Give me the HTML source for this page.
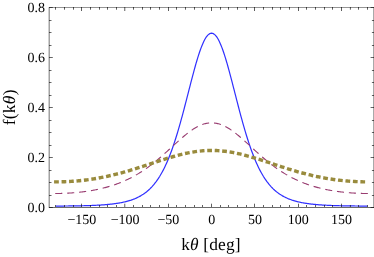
<!DOCTYPE html>
<html><head><meta charset="utf-8"><title>plot</title>
<style>
html,body{margin:0;padding:0;background:#fff;width:374px;height:257px;overflow:hidden}
svg{display:block;position:absolute;left:0;top:0;will-change:transform;text-rendering:geometricPrecision}
.ls{font-family:"Liberation Serif",serif}
</style></head>
<body>
<svg width="374" height="257" viewBox="0 0 374 257">
<rect width="374" height="257" fill="#fff"/>
<path d="M55.78,206.04 L56.65,206.04 L57.51,206.03 L58.38,206.03 L59.24,206.03 L60.11,206.03 L60.97,206.03 L61.84,206.02 L62.70,206.02 L63.57,206.02 L64.43,206.01 L65.30,206.01 L66.17,206.00 L67.03,205.99 L67.90,205.99 L68.76,205.98 L69.63,205.97 L70.49,205.96 L71.36,205.95 L72.22,205.94 L73.09,205.93 L73.95,205.92 L74.82,205.91 L75.68,205.89 L76.55,205.88 L77.42,205.86 L78.28,205.85 L79.15,205.83 L80.01,205.82 L80.88,205.80 L81.74,205.78 L82.61,205.76 L83.47,205.74 L84.34,205.72 L85.20,205.69 L86.07,205.67 L86.93,205.64 L87.80,205.61 L88.67,205.59 L89.53,205.56 L90.40,205.53 L91.26,205.49 L92.13,205.46 L92.99,205.42 L93.86,205.39 L94.72,205.35 L95.59,205.31 L96.45,205.26 L97.32,205.22 L98.18,205.17 L99.05,205.12 L99.92,205.07 L100.78,205.02 L101.65,204.96 L102.51,204.90 L103.38,204.84 L104.24,204.77 L105.11,204.70 L105.97,204.63 L106.84,204.56 L107.70,204.48 L108.57,204.40 L109.43,204.31 L110.30,204.22 L111.17,204.13 L112.03,204.03 L112.90,203.92 L113.76,203.82 L114.63,203.70 L115.49,203.58 L116.36,203.46 L117.22,203.33 L118.09,203.19 L118.95,203.05 L119.82,202.89 L120.68,202.74 L121.55,202.57 L122.42,202.40 L123.28,202.21 L124.15,202.02 L125.01,201.82 L125.88,201.61 L126.74,201.39 L127.61,201.15 L128.47,200.91 L129.34,200.65 L130.20,200.38 L131.07,200.10 L131.93,199.80 L132.80,199.49 L133.67,199.16 L134.53,198.82 L135.40,198.45 L136.26,198.07 L137.13,197.67 L137.99,197.25 L138.86,196.81 L139.72,196.35 L140.59,195.86 L141.45,195.35 L142.32,194.82 L143.18,194.26 L144.05,193.66 L144.92,193.04 L145.78,192.39 L146.65,191.71 L147.51,190.99 L148.38,190.24 L149.24,189.45 L150.11,188.62 L150.97,187.75 L151.84,186.84 L152.70,185.89 L153.57,184.89 L154.43,183.84 L155.30,182.74 L156.17,181.60 L157.03,180.40 L157.90,179.14 L158.76,177.83 L159.63,176.46 L160.49,175.03 L161.36,173.53 L162.22,171.98 L163.09,170.35 L163.95,168.66 L164.82,166.90 L165.68,165.07 L166.55,163.17 L167.42,161.20 L168.28,159.15 L169.15,157.02 L170.01,154.82 L170.88,152.54 L171.74,150.19 L172.61,147.76 L173.47,145.25 L174.34,142.67 L175.20,140.01 L176.07,137.28 L176.93,134.47 L177.80,131.60 L178.67,128.66 L179.53,125.65 L180.40,122.59 L181.26,119.46 L182.13,116.29 L182.99,113.06 L183.86,109.79 L184.72,106.49 L185.59,103.15 L186.45,99.80 L187.32,96.42 L188.18,93.04 L189.05,89.65 L189.92,86.28 L190.78,82.92 L191.65,79.59 L192.51,76.30 L193.38,73.05 L194.24,69.86 L195.11,66.73 L195.97,63.69 L196.84,60.73 L197.70,57.87 L198.57,55.13 L199.43,52.50 L200.30,50.00 L201.17,47.65 L202.03,45.44 L202.90,43.39 L203.76,41.51 L204.63,39.80 L205.49,38.28 L206.36,36.95 L207.22,35.81 L208.09,34.87 L208.95,34.13 L209.82,33.61 L210.68,33.29 L211.55,33.18 L212.42,33.29 L213.28,33.61 L214.15,34.13 L215.01,34.87 L215.88,35.81 L216.74,36.95 L217.61,38.28 L218.47,39.80 L219.34,41.51 L220.20,43.39 L221.07,45.44 L221.93,47.65 L222.80,50.00 L223.67,52.50 L224.53,55.13 L225.40,57.87 L226.26,60.73 L227.13,63.69 L227.99,66.73 L228.86,69.86 L229.72,73.05 L230.59,76.30 L231.45,79.59 L232.32,82.92 L233.18,86.28 L234.05,89.65 L234.92,93.04 L235.78,96.42 L236.65,99.80 L237.51,103.15 L238.38,106.49 L239.24,109.79 L240.11,113.06 L240.97,116.29 L241.84,119.46 L242.70,122.59 L243.57,125.65 L244.43,128.66 L245.30,131.60 L246.17,134.47 L247.03,137.28 L247.90,140.01 L248.76,142.67 L249.63,145.25 L250.49,147.76 L251.36,150.19 L252.22,152.54 L253.09,154.82 L253.95,157.02 L254.82,159.15 L255.68,161.20 L256.55,163.17 L257.42,165.07 L258.28,166.90 L259.15,168.66 L260.01,170.35 L260.88,171.98 L261.74,173.53 L262.61,175.03 L263.47,176.46 L264.34,177.83 L265.20,179.14 L266.07,180.40 L266.93,181.60 L267.80,182.74 L268.67,183.84 L269.53,184.89 L270.40,185.89 L271.26,186.84 L272.13,187.75 L272.99,188.62 L273.86,189.45 L274.72,190.24 L275.59,190.99 L276.45,191.71 L277.32,192.39 L278.18,193.04 L279.05,193.66 L279.92,194.26 L280.78,194.82 L281.65,195.35 L282.51,195.86 L283.38,196.35 L284.24,196.81 L285.11,197.25 L285.97,197.67 L286.84,198.07 L287.70,198.45 L288.57,198.82 L289.43,199.16 L290.30,199.49 L291.17,199.80 L292.03,200.10 L292.90,200.38 L293.76,200.65 L294.63,200.91 L295.49,201.15 L296.36,201.39 L297.22,201.61 L298.09,201.82 L298.95,202.02 L299.82,202.21 L300.68,202.40 L301.55,202.57 L302.42,202.74 L303.28,202.89 L304.15,203.05 L305.01,203.19 L305.88,203.33 L306.74,203.46 L307.61,203.58 L308.47,203.70 L309.34,203.82 L310.20,203.92 L311.07,204.03 L311.93,204.13 L312.80,204.22 L313.67,204.31 L314.53,204.40 L315.40,204.48 L316.26,204.56 L317.13,204.63 L317.99,204.70 L318.86,204.77 L319.72,204.84 L320.59,204.90 L321.45,204.96 L322.32,205.02 L323.18,205.07 L324.05,205.12 L324.92,205.17 L325.78,205.22 L326.65,205.26 L327.51,205.31 L328.38,205.35 L329.24,205.39 L330.11,205.42 L330.97,205.46 L331.84,205.49 L332.70,205.53 L333.57,205.56 L334.43,205.59 L335.30,205.61 L336.17,205.64 L337.03,205.67 L337.90,205.69 L338.76,205.72 L339.63,205.74 L340.49,205.76 L341.36,205.78 L342.22,205.80 L343.09,205.82 L343.95,205.83 L344.82,205.85 L345.68,205.86 L346.55,205.88 L347.42,205.89 L348.28,205.91 L349.15,205.92 L350.01,205.93 L350.88,205.94 L351.74,205.95 L352.61,205.96 L353.47,205.97 L354.34,205.98 L355.20,205.99 L356.07,205.99 L356.93,206.00 L357.80,206.01 L358.67,206.01 L359.53,206.02 L360.40,206.02 L361.26,206.02 L362.13,206.03 L362.99,206.03 L363.86,206.03 L364.72,206.03 L365.59,206.03 L366.45,206.04 L367.32,206.04" fill="none" stroke="#3030ff" stroke-width="1.22"/>
<path d="M55.78,193.47 L56.65,193.47 L57.51,193.47 L58.38,193.46 L59.24,193.45 L60.11,193.43 L60.97,193.42 L61.84,193.39 L62.70,193.37 L63.57,193.34 L64.43,193.31 L65.30,193.28 L66.17,193.24 L67.03,193.20 L67.90,193.15 L68.76,193.11 L69.63,193.06 L70.49,193.00 L71.36,192.94 L72.22,192.88 L73.09,192.82 L73.95,192.75 L74.82,192.68 L75.68,192.60 L76.55,192.52 L77.42,192.44 L78.28,192.36 L79.15,192.27 L80.01,192.17 L80.88,192.07 L81.74,191.97 L82.61,191.87 L83.47,191.76 L84.34,191.65 L85.20,191.53 L86.07,191.41 L86.93,191.28 L87.80,191.15 L88.67,191.02 L89.53,190.88 L90.40,190.74 L91.26,190.59 L92.13,190.44 L92.99,190.29 L93.86,190.13 L94.72,189.96 L95.59,189.80 L96.45,189.62 L97.32,189.44 L98.18,189.26 L99.05,189.07 L99.92,188.88 L100.78,188.68 L101.65,188.47 L102.51,188.26 L103.38,188.05 L104.24,187.83 L105.11,187.60 L105.97,187.37 L106.84,187.13 L107.70,186.89 L108.57,186.64 L109.43,186.39 L110.30,186.12 L111.17,185.86 L112.03,185.58 L112.90,185.30 L113.76,185.01 L114.63,184.72 L115.49,184.42 L116.36,184.11 L117.22,183.80 L118.09,183.48 L118.95,183.15 L119.82,182.81 L120.68,182.47 L121.55,182.12 L122.42,181.76 L123.28,181.39 L124.15,181.02 L125.01,180.64 L125.88,180.25 L126.74,179.85 L127.61,179.44 L128.47,179.02 L129.34,178.60 L130.20,178.17 L131.07,177.73 L131.93,177.28 L132.80,176.82 L133.67,176.35 L134.53,175.87 L135.40,175.39 L136.26,174.89 L137.13,174.39 L137.99,173.87 L138.86,173.35 L139.72,172.82 L140.59,172.27 L141.45,171.72 L142.32,171.16 L143.18,170.59 L144.05,170.01 L144.92,169.42 L145.78,168.82 L146.65,168.21 L147.51,167.59 L148.38,166.96 L149.24,166.32 L150.11,165.68 L150.97,165.02 L151.84,164.35 L152.70,163.68 L153.57,163.00 L154.43,162.31 L155.30,161.61 L156.17,160.90 L157.03,160.18 L157.90,159.46 L158.76,158.73 L159.63,157.99 L160.49,157.24 L161.36,156.49 L162.22,155.73 L163.09,154.96 L163.95,154.19 L164.82,153.42 L165.68,152.64 L166.55,151.86 L167.42,151.07 L168.28,150.28 L169.15,149.48 L170.01,148.69 L170.88,147.89 L171.74,147.09 L172.61,146.30 L173.47,145.50 L174.34,144.70 L175.20,143.91 L176.07,143.12 L176.93,142.33 L177.80,141.55 L178.67,140.77 L179.53,139.99 L180.40,139.23 L181.26,138.47 L182.13,137.71 L182.99,136.97 L183.86,136.24 L184.72,135.52 L185.59,134.81 L186.45,134.11 L187.32,133.42 L188.18,132.75 L189.05,132.10 L189.92,131.46 L190.78,130.84 L191.65,130.23 L192.51,129.65 L193.38,129.08 L194.24,128.53 L195.11,128.01 L195.97,127.50 L196.84,127.02 L197.70,126.57 L198.57,126.13 L199.43,125.72 L200.30,125.34 L201.17,124.98 L202.03,124.65 L202.90,124.35 L203.76,124.07 L204.63,123.82 L205.49,123.60 L206.36,123.41 L207.22,123.24 L208.09,123.11 L208.95,123.01 L209.82,122.93 L210.68,122.89 L211.55,122.87 L212.42,122.89 L213.28,122.93 L214.15,123.01 L215.01,123.11 L215.88,123.24 L216.74,123.41 L217.61,123.60 L218.47,123.82 L219.34,124.07 L220.20,124.35 L221.07,124.65 L221.93,124.98 L222.80,125.34 L223.67,125.72 L224.53,126.13 L225.40,126.57 L226.26,127.02 L227.13,127.50 L227.99,128.01 L228.86,128.53 L229.72,129.08 L230.59,129.65 L231.45,130.23 L232.32,130.84 L233.18,131.46 L234.05,132.10 L234.92,132.75 L235.78,133.42 L236.65,134.11 L237.51,134.81 L238.38,135.52 L239.24,136.24 L240.11,136.97 L240.97,137.71 L241.84,138.47 L242.70,139.23 L243.57,139.99 L244.43,140.77 L245.30,141.55 L246.17,142.33 L247.03,143.12 L247.90,143.91 L248.76,144.70 L249.63,145.50 L250.49,146.30 L251.36,147.09 L252.22,147.89 L253.09,148.69 L253.95,149.48 L254.82,150.28 L255.68,151.07 L256.55,151.86 L257.42,152.64 L258.28,153.42 L259.15,154.19 L260.01,154.96 L260.88,155.73 L261.74,156.49 L262.61,157.24 L263.47,157.99 L264.34,158.73 L265.20,159.46 L266.07,160.18 L266.93,160.90 L267.80,161.61 L268.67,162.31 L269.53,163.00 L270.40,163.68 L271.26,164.35 L272.13,165.02 L272.99,165.68 L273.86,166.32 L274.72,166.96 L275.59,167.59 L276.45,168.21 L277.32,168.82 L278.18,169.42 L279.05,170.01 L279.92,170.59 L280.78,171.16 L281.65,171.72 L282.51,172.27 L283.38,172.82 L284.24,173.35 L285.11,173.87 L285.97,174.39 L286.84,174.89 L287.70,175.39 L288.57,175.87 L289.43,176.35 L290.30,176.82 L291.17,177.28 L292.03,177.73 L292.90,178.17 L293.76,178.60 L294.63,179.02 L295.49,179.44 L296.36,179.85 L297.22,180.25 L298.09,180.64 L298.95,181.02 L299.82,181.39 L300.68,181.76 L301.55,182.12 L302.42,182.47 L303.28,182.81 L304.15,183.15 L305.01,183.48 L305.88,183.80 L306.74,184.11 L307.61,184.42 L308.47,184.72 L309.34,185.01 L310.20,185.30 L311.07,185.58 L311.93,185.86 L312.80,186.12 L313.67,186.39 L314.53,186.64 L315.40,186.89 L316.26,187.13 L317.13,187.37 L317.99,187.60 L318.86,187.83 L319.72,188.05 L320.59,188.26 L321.45,188.47 L322.32,188.68 L323.18,188.88 L324.05,189.07 L324.92,189.26 L325.78,189.44 L326.65,189.62 L327.51,189.80 L328.38,189.96 L329.24,190.13 L330.11,190.29 L330.97,190.44 L331.84,190.59 L332.70,190.74 L333.57,190.88 L334.43,191.02 L335.30,191.15 L336.17,191.28 L337.03,191.41 L337.90,191.53 L338.76,191.65 L339.63,191.76 L340.49,191.87 L341.36,191.97 L342.22,192.07 L343.09,192.17 L343.95,192.27 L344.82,192.36 L345.68,192.44 L346.55,192.52 L347.42,192.60 L348.28,192.68 L349.15,192.75 L350.01,192.82 L350.88,192.88 L351.74,192.94 L352.61,193.00 L353.47,193.06 L354.34,193.11 L355.20,193.15 L356.07,193.20 L356.93,193.24 L357.80,193.28 L358.67,193.31 L359.53,193.34 L360.40,193.37 L361.26,193.39 L362.13,193.42 L362.99,193.43 L363.86,193.45 L364.72,193.46 L365.59,193.47 L366.45,193.47 L367.32,193.47" fill="none" stroke="#993d71" stroke-width="1.1" stroke-linecap="square" stroke-dasharray="5.98 5.98"/>
<path d="M55.78,181.86 L56.65,181.86 L57.51,181.86 L58.38,181.85 L59.24,181.84 L60.11,181.83 L60.97,181.81 L61.84,181.79 L62.70,181.76 L63.57,181.74 L64.43,181.71 L65.30,181.68 L66.17,181.64 L67.03,181.60 L67.90,181.56 L68.76,181.51 L69.63,181.46 L70.49,181.41 L71.36,181.36 L72.22,181.30 L73.09,181.24 L73.95,181.17 L74.82,181.11 L75.68,181.04 L76.55,180.96 L77.42,180.89 L78.28,180.81 L79.15,180.72 L80.01,180.64 L80.88,180.55 L81.74,180.45 L82.61,180.36 L83.47,180.26 L84.34,180.16 L85.20,180.05 L86.07,179.94 L86.93,179.83 L87.80,179.71 L88.67,179.60 L89.53,179.47 L90.40,179.35 L91.26,179.22 L92.13,179.09 L92.99,178.96 L93.86,178.82 L94.72,178.68 L95.59,178.53 L96.45,178.39 L97.32,178.24 L98.18,178.08 L99.05,177.93 L99.92,177.77 L100.78,177.60 L101.65,177.44 L102.51,177.27 L103.38,177.10 L104.24,176.92 L105.11,176.74 L105.97,176.56 L106.84,176.38 L107.70,176.19 L108.57,176.00 L109.43,175.80 L110.30,175.61 L111.17,175.41 L112.03,175.20 L112.90,175.00 L113.76,174.79 L114.63,174.58 L115.49,174.36 L116.36,174.15 L117.22,173.93 L118.09,173.70 L118.95,173.48 L119.82,173.25 L120.68,173.02 L121.55,172.78 L122.42,172.55 L123.28,172.31 L124.15,172.07 L125.01,171.82 L125.88,171.58 L126.74,171.33 L127.61,171.08 L128.47,170.82 L129.34,170.57 L130.20,170.31 L131.07,170.05 L131.93,169.79 L132.80,169.52 L133.67,169.26 L134.53,168.99 L135.40,168.72 L136.26,168.45 L137.13,168.17 L137.99,167.90 L138.86,167.62 L139.72,167.35 L140.59,167.07 L141.45,166.79 L142.32,166.51 L143.18,166.22 L144.05,165.94 L144.92,165.66 L145.78,165.37 L146.65,165.08 L147.51,164.80 L148.38,164.51 L149.24,164.22 L150.11,163.94 L150.97,163.65 L151.84,163.36 L152.70,163.07 L153.57,162.79 L154.43,162.50 L155.30,162.21 L156.17,161.93 L157.03,161.64 L157.90,161.36 L158.76,161.07 L159.63,160.79 L160.49,160.51 L161.36,160.23 L162.22,159.95 L163.09,159.67 L163.95,159.39 L164.82,159.12 L165.68,158.85 L166.55,158.58 L167.42,158.31 L168.28,158.04 L169.15,157.78 L170.01,157.52 L170.88,157.26 L171.74,157.01 L172.61,156.75 L173.47,156.51 L174.34,156.26 L175.20,156.02 L176.07,155.78 L176.93,155.54 L177.80,155.31 L178.67,155.09 L179.53,154.86 L180.40,154.64 L181.26,154.43 L182.13,154.22 L182.99,154.01 L183.86,153.81 L184.72,153.62 L185.59,153.42 L186.45,153.24 L187.32,153.06 L188.18,152.88 L189.05,152.71 L189.92,152.55 L190.78,152.39 L191.65,152.23 L192.51,152.08 L193.38,151.94 L194.24,151.81 L195.11,151.68 L195.97,151.55 L196.84,151.44 L197.70,151.32 L198.57,151.22 L199.43,151.12 L200.30,151.03 L201.17,150.94 L202.03,150.86 L202.90,150.79 L203.76,150.73 L204.63,150.67 L205.49,150.62 L206.36,150.57 L207.22,150.53 L208.09,150.50 L208.95,150.48 L209.82,150.46 L210.68,150.45 L211.55,150.45 L212.42,150.45 L213.28,150.46 L214.15,150.48 L215.01,150.50 L215.88,150.53 L216.74,150.57 L217.61,150.62 L218.47,150.67 L219.34,150.73 L220.20,150.79 L221.07,150.86 L221.93,150.94 L222.80,151.03 L223.67,151.12 L224.53,151.22 L225.40,151.32 L226.26,151.44 L227.13,151.55 L227.99,151.68 L228.86,151.81 L229.72,151.94 L230.59,152.08 L231.45,152.23 L232.32,152.39 L233.18,152.55 L234.05,152.71 L234.92,152.88 L235.78,153.06 L236.65,153.24 L237.51,153.42 L238.38,153.62 L239.24,153.81 L240.11,154.01 L240.97,154.22 L241.84,154.43 L242.70,154.64 L243.57,154.86 L244.43,155.09 L245.30,155.31 L246.17,155.54 L247.03,155.78 L247.90,156.02 L248.76,156.26 L249.63,156.51 L250.49,156.75 L251.36,157.01 L252.22,157.26 L253.09,157.52 L253.95,157.78 L254.82,158.04 L255.68,158.31 L256.55,158.58 L257.42,158.85 L258.28,159.12 L259.15,159.39 L260.01,159.67 L260.88,159.95 L261.74,160.23 L262.61,160.51 L263.47,160.79 L264.34,161.07 L265.20,161.36 L266.07,161.64 L266.93,161.93 L267.80,162.21 L268.67,162.50 L269.53,162.79 L270.40,163.07 L271.26,163.36 L272.13,163.65 L272.99,163.94 L273.86,164.22 L274.72,164.51 L275.59,164.80 L276.45,165.08 L277.32,165.37 L278.18,165.66 L279.05,165.94 L279.92,166.22 L280.78,166.51 L281.65,166.79 L282.51,167.07 L283.38,167.35 L284.24,167.62 L285.11,167.90 L285.97,168.17 L286.84,168.45 L287.70,168.72 L288.57,168.99 L289.43,169.26 L290.30,169.52 L291.17,169.79 L292.03,170.05 L292.90,170.31 L293.76,170.57 L294.63,170.82 L295.49,171.08 L296.36,171.33 L297.22,171.58 L298.09,171.82 L298.95,172.07 L299.82,172.31 L300.68,172.55 L301.55,172.78 L302.42,173.02 L303.28,173.25 L304.15,173.48 L305.01,173.70 L305.88,173.93 L306.74,174.15 L307.61,174.36 L308.47,174.58 L309.34,174.79 L310.20,175.00 L311.07,175.20 L311.93,175.41 L312.80,175.61 L313.67,175.80 L314.53,176.00 L315.40,176.19 L316.26,176.38 L317.13,176.56 L317.99,176.74 L318.86,176.92 L319.72,177.10 L320.59,177.27 L321.45,177.44 L322.32,177.60 L323.18,177.77 L324.05,177.93 L324.92,178.08 L325.78,178.24 L326.65,178.39 L327.51,178.53 L328.38,178.68 L329.24,178.82 L330.11,178.96 L330.97,179.09 L331.84,179.22 L332.70,179.35 L333.57,179.47 L334.43,179.60 L335.30,179.71 L336.17,179.83 L337.03,179.94 L337.90,180.05 L338.76,180.16 L339.63,180.26 L340.49,180.36 L341.36,180.45 L342.22,180.55 L343.09,180.64 L343.95,180.72 L344.82,180.81 L345.68,180.89 L346.55,180.96 L347.42,181.04 L348.28,181.11 L349.15,181.17 L350.01,181.24 L350.88,181.30 L351.74,181.36 L352.61,181.41 L353.47,181.46 L354.34,181.51 L355.20,181.56 L356.07,181.60 L356.93,181.64 L357.80,181.68 L358.67,181.71 L359.53,181.74 L360.40,181.76 L361.26,181.79 L362.13,181.81 L362.99,181.83 L363.86,181.84 L364.72,181.85 L365.59,181.86 L366.45,181.86 L367.32,181.86" fill="none" stroke="#998b3d" stroke-width="3.4" stroke-linecap="square" stroke-dasharray="1.35 6.13"/>
<path d="M48.90,7.50 H374.00" fill="none" stroke="#000" stroke-opacity="0.42" stroke-width="1"/>
<path d="M48.90,207.50 H374.00" fill="none" stroke="#000" stroke-opacity="0.58" stroke-width="1"/>
<path d="M49.17,7.50 V207.50 M373.90,7.50 V207.50" fill="none" stroke="#000" stroke-width="0.56"/>
<path d="M55.50,207.00 v-2.00 M64.50,207.00 v-2.00 M73.50,207.00 v-2.00 M81.50,207.00 v-3.30 M90.50,207.00 v-2.00 M99.50,207.00 v-2.00 M107.50,207.00 v-2.00 M116.50,207.00 v-2.00 M124.78,207.00 v-3.30 M133.50,207.00 v-2.00 M142.50,207.00 v-2.00 M150.50,207.00 v-2.00 M159.50,207.00 v-2.00 M168.50,207.00 v-3.30 M176.50,207.00 v-2.00 M185.50,207.00 v-2.00 M194.50,207.00 v-2.00 M202.50,207.00 v-2.00 M211.50,207.00 v-3.30 M220.50,207.00 v-2.00 M228.50,207.00 v-2.00 M237.50,207.00 v-2.00 M246.50,207.00 v-2.00 M254.50,207.00 v-3.30 M263.50,207.00 v-2.00 M272.50,207.00 v-2.00 M280.50,207.00 v-2.00 M289.50,207.00 v-2.00 M298.50,207.00 v-3.30 M306.50,207.00 v-2.00 M315.50,207.00 v-2.00 M324.50,207.00 v-2.00 M332.50,207.00 v-2.00 M341.50,207.00 v-3.30 M350.40,207.00 v-2.00 M358.50,207.00 v-2.00 M367.50,207.00 v-2.00" fill="none" stroke="#000" stroke-opacity="0.62" stroke-width="1"/>
<path d="M55.50,7.00 v2.70 M64.50,7.00 v2.70 M73.50,7.00 v2.70 M81.50,7.00 v4.00 M90.50,7.00 v2.70 M99.50,7.00 v2.70 M107.50,7.00 v2.70 M116.50,7.00 v2.70 M124.78,7.00 v4.00 M133.50,7.00 v2.70 M142.50,7.00 v2.70 M150.50,7.00 v2.70 M159.50,7.00 v2.70 M168.50,7.00 v4.00 M176.50,7.00 v2.70 M185.50,7.00 v2.70 M194.50,7.00 v2.70 M202.50,7.00 v2.70 M211.50,7.00 v4.00 M220.50,7.00 v2.70 M228.50,7.00 v2.70 M237.50,7.00 v2.70 M246.50,7.00 v2.70 M254.50,7.00 v4.00 M263.50,7.00 v2.70 M272.50,7.00 v2.70 M280.50,7.00 v2.70 M289.50,7.00 v2.70 M298.50,7.00 v4.00 M306.50,7.00 v2.70 M315.50,7.00 v2.70 M324.50,7.00 v2.70 M332.50,7.00 v2.70 M341.50,7.00 v4.00 M350.40,7.00 v2.70 M358.50,7.00 v2.70 M367.50,7.00 v2.70" fill="none" stroke="#000" stroke-opacity="0.64" stroke-width="1"/>
<path d="M49.00,207.50 h3.80 M374.00,207.50 h-3.40 M49.00,195.50 h2.50 M374.00,195.50 h-2.10 M49.00,182.50 h2.50 M374.00,182.50 h-2.10 M49.00,170.50 h2.50 M374.00,170.50 h-2.10 M49.00,157.50 h3.80 M374.00,157.50 h-3.40 M49.00,145.50 h2.50 M374.00,145.50 h-2.10 M49.00,132.50 h2.50 M374.00,132.50 h-2.10 M49.00,120.50 h2.50 M374.00,120.50 h-2.10 M49.00,107.50 h3.80 M374.00,107.50 h-3.40 M49.00,95.50 h2.50 M374.00,95.50 h-2.10 M49.00,82.50 h2.50 M374.00,82.50 h-2.10 M49.00,70.50 h2.50 M374.00,70.50 h-2.10 M49.00,57.50 h3.80 M374.00,57.50 h-3.40 M49.00,45.50 h2.50 M374.00,45.50 h-2.10 M49.00,32.50 h2.50 M374.00,32.50 h-2.10 M49.00,20.50 h2.50 M374.00,20.50 h-2.10 M49.00,7.50 h3.80 M374.00,7.50 h-3.40" fill="none" stroke="#000" stroke-opacity="0.6" stroke-width="1"/>
<g class="ls" font-size="14.00px" fill="#000">
<text x="81.84" y="224.30" text-anchor="middle">−150</text>
<text x="125.11" y="224.30" text-anchor="middle">−100</text>
<text x="168.38" y="224.30" text-anchor="middle">−50</text>
<text x="211.65" y="224.30" text-anchor="middle">0</text>
<text x="254.92" y="224.30" text-anchor="middle">50</text>
<text x="298.19" y="224.30" text-anchor="middle">100</text>
<text x="341.46" y="224.30" text-anchor="middle">150</text>
<text x="45.10" y="211.75" text-anchor="end">0.0</text>
<text x="45.10" y="161.75" text-anchor="end">0.2</text>
<text x="45.10" y="111.75" text-anchor="end">0.4</text>
<text x="45.10" y="61.75" text-anchor="end">0.6</text>
<text x="45.10" y="11.75" text-anchor="end">0.8</text>
</g>
<g class="ls" font-size="17.40px" fill="#000">
<text x="211" y="250.20" text-anchor="middle" letter-spacing="0.15">k<tspan font-style="italic">θ</tspan> [deg]</text>
<text transform="translate(15.00,107.30) rotate(-90)" text-anchor="middle" letter-spacing="0.3">f(k<tspan font-style="italic">θ</tspan>)</text>
</g>
</svg>
</body></html>
